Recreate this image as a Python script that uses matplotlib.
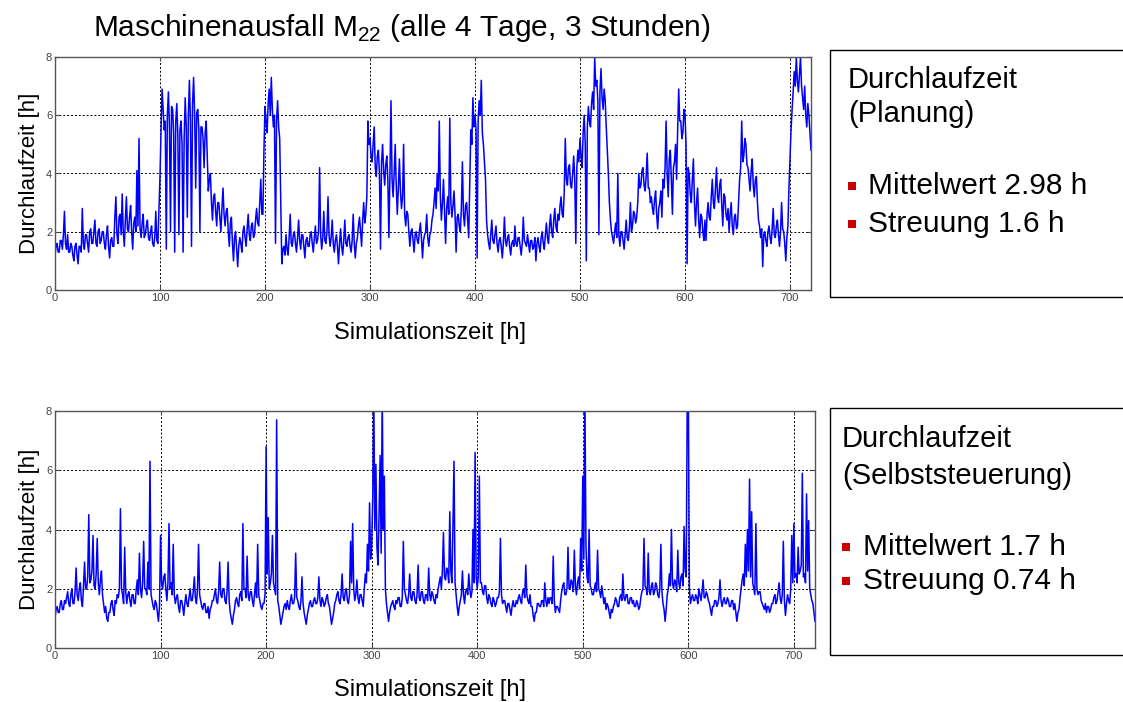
import numpy as np
import matplotlib
matplotlib.use("Agg")
import matplotlib.pyplot as plt
from matplotlib.patches import Rectangle

plt.rcParams['font.family'] = ['Liberation Sans', 'DejaVu Sans']
plt.rcParams['mathtext.fontset'] = 'custom'
plt.rcParams['mathtext.rm'] = 'Liberation Sans'

W, H = 1123, 702

# simulation time [h], one reading per hour
hours = np.arange(0, 721)

# Durchlaufzeit with central planning [h]
planung = [
    1.2, 1.5, 1.6, 1.3, 1.3, 1.7, 1.7, 1.4, 1.9, 2.7, 1.6, 1.4, 1.9, 1.3, 1.3, 1.6, 1.5, 1.2, 1.0, 1.5,
    1.6, 1.2, 0.9, 1.5, 1.5, 1.3, 2.8, 1.6, 1.4, 1.9, 1.9, 1.6, 1.3, 2.0, 2.1, 1.6, 1.6, 2.0, 2.4, 1.6,
    1.5, 2.0, 2.1, 1.6, 1.7, 2.0, 2.0, 1.6, 1.4, 1.9, 2.2, 1.5, 1.1, 1.7, 1.8, 1.5, 1.5, 2.5, 3.2, 1.9,
    1.6, 2.5, 2.6, 1.9, 3.3, 2.0, 1.5, 2.4, 3.2, 2.1, 2.0, 2.5, 2.9, 2.0, 1.4, 2.3, 2.5, 2.0, 4.1, 2.2,
    5.2, 2.1, 1.8, 2.3, 2.6, 1.8, 1.9, 2.2, 2.4, 1.8, 1.7, 2.0, 2.2, 1.6, 1.5, 1.8, 2.7, 1.7, 1.6, 2.8,
    3.9, 5.5, 6.9, 6.2, 5.5, 5.8, 1.4, 6.0, 6.8, 5.6, 2.0, 6.3, 6.2, 5.4, 1.3, 5.8, 6.4, 5.3, 1.9, 5.5,
    5.8, 5.0, 1.3, 5.2, 6.6, 5.6, 2.5, 6.0, 7.2, 5.8, 1.5, 6.4, 7.3, 6.0, 3.5, 6.1, 6.2, 5.5, 2.0, 5.6,
    5.6, 5.2, 4.2, 5.4, 5.8, 4.6, 3.4, 3.8, 4.0, 3.0, 2.4, 3.2, 3.3, 2.7, 2.2, 3.0, 3.0, 2.5, 2.0, 2.8,
    3.5, 2.6, 2.2, 2.7, 2.8, 2.0, 1.5, 2.3, 2.5, 1.6, 1.0, 1.8, 2.0, 1.4, 0.8, 1.5, 1.8, 1.6, 1.3, 2.0,
    2.2, 1.8, 1.5, 2.1, 2.6, 1.9, 1.7, 2.2, 2.3, 1.8, 1.9, 2.4, 2.8, 2.3, 2.2, 3.0, 3.8, 2.6, 2.6, 4.8,
    6.3, 5.8, 5.4, 6.4, 6.9, 6.0, 7.3, 6.2, 5.6, 6.0, 1.6, 5.8, 6.5, 5.6, 5.2, 3.0, 0.9, 1.4, 1.5, 1.2,
    1.9, 1.4, 1.2, 1.8, 2.6, 1.6, 1.5, 1.9, 2.0, 1.6, 1.3, 1.8, 2.4, 1.7, 1.4, 1.9, 1.9, 1.5, 1.1, 1.7,
    1.8, 1.5, 1.5, 1.9, 2.0, 1.6, 1.3, 1.8, 2.2, 1.6, 1.7, 2.0, 4.2, 1.9, 1.4, 1.8, 2.7, 1.7, 1.6, 2.0,
    3.2, 1.9, 1.5, 1.8, 2.4, 1.6, 1.3, 1.7, 1.9, 1.5, 0.9, 1.6, 2.1, 1.5, 1.2, 1.7, 2.4, 1.6, 1.5, 1.8,
    1.9, 1.5, 1.3, 1.7, 2.6, 1.6, 1.1, 1.6, 1.8, 2.2, 2.5, 2.0, 1.5, 2.4, 3.0, 2.3, 2.6, 3.2, 5.8, 5.0,
    5.2, 4.6, 4.4, 5.0, 5.6, 4.2, 3.9, 4.6, 4.8, 4.0, 1.4, 4.4, 5.0, 4.1, 3.6, 4.3, 4.6, 3.8, 1.8, 4.0,
    6.5, 3.8, 3.2, 4.0, 5.0, 3.6, 2.6, 3.5, 4.5, 3.4, 2.8, 3.2, 5.0, 2.6, 2.2, 2.7, 2.6, 2.0, 1.5, 2.0,
    2.1, 1.7, 1.3, 1.9, 2.0, 1.7, 1.6, 2.0, 2.3, 1.8, 1.1, 1.7, 1.9, 2.0, 2.6, 1.8, 1.5, 1.9, 2.0, 2.4,
    2.6, 3.0, 3.5, 2.8, 4.0, 3.4, 5.8, 3.2, 2.4, 3.0, 3.8, 2.7, 1.6, 2.8, 3.2, 2.6, 5.9, 3.0, 2.5, 2.9,
    3.4, 2.6, 1.3, 2.5, 2.6, 2.2, 2.0, 2.8, 4.4, 2.6, 2.2, 2.9, 3.0, 2.4, 1.8, 3.6, 5.5, 5.0, 6.6, 5.6,
    6.0, 5.5, 1.1, 5.8, 6.5, 6.0, 7.2, 5.4, 5.0, 4.4, 3.8, 2.4, 1.9, 1.6, 1.4, 1.9, 2.4, 1.7, 1.6, 1.9,
    2.2, 1.6, 1.3, 1.7, 1.8, 1.5, 1.1, 1.6, 2.5, 1.7, 1.5, 1.8, 1.9, 1.5, 1.2, 1.6, 1.7, 1.5, 2.2, 1.6,
    1.5, 1.8, 1.8, 1.5, 1.2, 1.6, 2.5, 1.7, 1.6, 1.5, 1.9, 1.6, 1.3, 1.7, 1.7, 1.4, 1.5, 1.8, 1.0, 1.6,
    1.8, 1.5, 1.3, 1.8, 2.0, 1.6, 1.4, 1.9, 2.3, 1.8, 1.6, 2.2, 2.6, 2.0, 1.8, 2.4, 2.8, 2.2, 2.0, 2.6,
    2.4, 2.9, 3.2, 2.6, 2.5, 3.4, 5.2, 3.8, 3.6, 4.2, 4.3, 3.6, 3.5, 4.0, 4.6, 3.8, 1.6, 4.2, 4.8, 4.4,
    5.2, 4.6, 4.2, 5.4, 6.0, 5.0, 1.0, 5.6, 6.3, 5.8, 5.6, 6.4, 6.8, 6.2, 8.0, 7.0, 7.2, 6.5, 1.9, 6.8,
    7.6, 6.6, 6.2, 6.9, 6.5, 5.6, 4.8, 4.0, 3.0, 2.4, 2.0, 1.8, 1.6, 2.0, 2.3, 1.8, 4.0, 1.9, 1.5, 2.0,
    2.0, 1.7, 1.4, 1.9, 2.4, 1.8, 1.7, 2.1, 3.0, 2.0, 2.2, 2.7, 2.6, 2.3, 2.5, 3.0, 4.0, 3.5, 3.6, 4.1,
    4.2, 3.6, 3.4, 3.9, 4.7, 3.5, 3.5, 3.0, 3.2, 2.8, 2.6, 3.1, 3.4, 2.6, 2.1, 2.8, 3.0, 3.4, 2.5, 3.8,
    3.5, 4.2, 5.8, 4.0, 3.2, 4.5, 4.8, 3.8, 2.6, 4.2, 4.4, 5.0, 3.8, 5.5, 6.9, 5.8, 5.8, 5.2, 5.4, 6.2,
    6.0, 5.0, 0.9, 4.2, 4.0, 3.3, 3.0, 3.8, 4.5, 3.0, 2.2, 3.0, 3.5, 2.4, 1.8, 2.6, 2.5, 2.0, 1.7, 2.4,
    1.7, 2.6, 3.0, 2.5, 2.4, 3.2, 3.8, 3.0, 2.8, 3.5, 4.2, 3.2, 3.0, 3.6, 3.8, 2.9, 2.2, 3.3, 3.2, 2.6,
    2.4, 2.8, 2.0, 2.6, 3.0, 2.2, 1.9, 2.5, 2.6, 2.1, 2.2, 3.0, 3.8, 4.2, 5.8, 4.4, 4.6, 5.2, 5.0, 4.3,
    4.2, 3.8, 3.4, 4.1, 4.5, 3.6, 3.2, 3.8, 3.9, 3.0, 2.4, 2.2, 1.8, 2.1, 0.8, 1.9, 2.0, 1.7, 1.5, 2.0,
    2.2, 1.8, 1.6, 2.1, 2.8, 1.9, 1.8, 2.2, 2.4, 1.9, 1.5, 2.0, 3.0, 2.1, 2.0, 1.6, 1.0, 1.8, 2.2, 3.5,
    4.5, 5.5, 6.2, 6.8, 7.5, 7.0, 8.0, 7.2, 6.8, 7.4, 8.0, 7.0, 6.6, 6.2, 7.0, 6.0, 5.6, 6.4, 6.0, 5.4,
    4.8,
]

# Durchlaufzeit with self-control [h]
selbst = [
    1.0, 1.3, 1.4, 1.2, 1.2, 1.5, 1.6, 1.3, 1.3, 1.6, 1.5, 1.7, 1.9, 1.5, 1.4, 1.8, 2.0, 1.5, 1.5, 1.9,
    2.7, 1.8, 1.6, 2.0, 2.2, 1.6, 1.4, 2.1, 2.9, 2.0, 2.0, 2.4, 4.5, 2.2, 2.3, 2.6, 3.8, 2.1, 2.0, 2.5,
    3.7, 2.2, 1.8, 2.3, 2.6, 1.8, 1.5, 1.2, 1.4, 1.0, 0.9, 1.2, 1.2, 1.5, 1.6, 1.3, 1.1, 1.6, 1.5, 1.8,
    1.7, 2.0, 4.7, 2.0, 1.8, 1.5, 3.4, 1.9, 1.5, 1.8, 1.9, 1.6, 1.4, 1.8, 1.8, 1.5, 1.5, 2.0, 2.3, 1.8,
    3.2, 2.0, 1.7, 2.2, 3.6, 2.0, 2.0, 1.8, 2.9, 2.0, 6.3, 1.8, 1.6, 1.4, 1.3, 1.6, 1.5, 1.2, 0.9, 1.4,
    3.8, 2.2, 2.0, 2.4, 2.5, 2.0, 1.6, 2.2, 4.2, 2.0, 2.2, 1.8, 3.5, 1.8, 1.5, 1.7, 1.8, 1.4, 1.2, 1.6,
    1.6, 1.4, 1.1, 1.5, 1.8, 1.5, 1.4, 1.7, 2.0, 1.6, 1.6, 1.9, 2.4, 1.7, 1.5, 2.0, 3.5, 1.8, 1.6, 1.4,
    1.3, 1.5, 1.5, 1.2, 1.2, 1.4, 1.0, 1.3, 1.4, 1.6, 1.6, 1.8, 2.0, 1.6, 1.5, 1.9, 2.9, 1.8, 1.7, 2.0,
    2.0, 1.6, 1.5, 1.9, 2.9, 1.6, 1.2, 1.0, 0.8, 1.1, 1.3, 1.6, 1.7, 1.5, 1.4, 1.8, 1.9, 1.6, 4.2, 2.0,
    2.0, 1.7, 3.1, 1.8, 1.6, 1.9, 1.9, 1.6, 1.4, 1.8, 2.2, 1.7, 3.5, 1.8, 1.6, 1.4, 1.3, 1.5, 1.5, 1.8,
    6.8, 2.5, 4.4, 2.0, 2.2, 2.5, 3.8, 2.2, 2.0, 1.8, 7.7, 1.6, 1.4, 1.1, 0.8, 1.0, 1.2, 1.4, 1.5, 1.3,
    1.6, 1.4, 1.3, 1.6, 1.8, 1.5, 1.5, 1.7, 3.2, 1.7, 1.6, 1.4, 1.3, 1.6, 2.4, 1.5, 1.2, 1.0, 0.8, 1.1,
    1.3, 1.5, 1.6, 1.4, 1.4, 1.6, 1.7, 1.5, 1.5, 1.7, 2.4, 1.6, 1.4, 1.7, 1.6, 1.4, 1.5, 1.7, 1.8, 1.5,
    1.4, 1.1, 0.8, 1.0, 1.2, 1.5, 1.6, 1.8, 1.9, 1.6, 1.5, 1.8, 2.5, 1.7, 1.6, 1.9, 2.0, 1.6, 1.5, 1.8,
    3.6, 2.2, 4.2, 2.0, 1.6, 1.8, 2.3, 1.7, 1.5, 1.8, 1.8, 1.6, 1.4, 2.0, 2.5, 2.2, 3.5, 2.6, 4.9, 3.0,
    3.5, 5.0, 8.6, 4.0, 6.2, 3.4, 2.8, 4.5, 6.5, 3.2, 8.6, 4.0, 5.8, 2.0, 1.5, 1.2, 0.9, 1.2, 1.4, 1.5,
    1.6, 1.4, 1.3, 1.6, 1.5, 1.7, 1.7, 1.4, 1.4, 1.7, 3.6, 2.0, 1.8, 1.6, 1.5, 1.8, 2.5, 1.7, 1.6, 1.9,
    1.9, 1.6, 1.5, 1.8, 2.8, 1.7, 1.6, 1.9, 1.9, 1.6, 1.5, 1.8, 1.8, 1.6, 2.7, 1.8, 1.6, 1.9, 1.8, 1.6,
    1.5, 1.8, 1.7, 2.0, 2.2, 2.4, 2.0, 2.6, 3.9, 2.4, 2.3, 2.7, 2.6, 2.2, 4.6, 2.6, 2.2, 4.1, 6.3, 2.2,
    1.8, 1.4, 1.1, 1.4, 1.6, 1.8, 2.6, 1.8, 1.5, 1.9, 2.0, 1.8, 2.5, 2.0, 1.7, 1.9, 4.0, 2.2, 6.6, 2.4,
    2.0, 2.4, 5.8, 2.2, 2.2, 1.9, 1.8, 2.1, 2.1, 1.7, 1.5, 1.8, 1.7, 1.5, 1.4, 1.7, 1.6, 1.4, 1.5, 1.7,
    1.7, 1.9, 3.7, 1.8, 1.5, 1.6, 1.6, 1.4, 1.2, 1.5, 1.5, 1.3, 1.1, 1.4, 1.6, 1.4, 1.4, 1.6, 1.5, 1.7,
    1.8, 1.6, 1.5, 1.9, 2.0, 1.7, 2.8, 1.8, 1.6, 1.5, 1.8, 1.4, 1.4, 1.1, 0.9, 1.2, 1.2, 1.5, 1.5, 1.4,
    1.4, 1.6, 1.6, 1.4, 2.2, 1.6, 1.4, 1.7, 1.5, 1.7, 1.7, 1.5, 3.1, 1.6, 1.2, 1.4, 1.4, 1.3, 1.2, 1.6,
    1.9, 2.1, 2.2, 1.8, 1.8, 2.0, 3.4, 2.0, 2.0, 2.3, 2.2, 1.9, 3.3, 2.1, 1.8, 2.2, 2.4, 2.0, 3.7, 2.6,
    5.8, 3.0, 8.6, 3.5, 2.4, 2.2, 4.0, 2.1, 2.0, 1.8, 1.8, 2.0, 2.2, 1.9, 3.3, 2.0, 1.9, 1.7, 2.1, 1.8,
    1.5, 1.7, 1.3, 1.5, 1.4, 1.2, 1.0, 1.3, 1.2, 1.4, 1.5, 1.7, 1.6, 1.4, 1.4, 1.7, 1.8, 1.6, 2.5, 1.7,
    1.6, 1.8, 1.8, 1.5, 1.5, 1.7, 1.7, 1.5, 1.6, 1.4, 1.4, 1.6, 1.5, 1.3, 1.4, 1.7, 1.9, 2.0, 3.7, 2.1,
    2.0, 1.8, 3.2, 1.9, 1.8, 2.1, 2.2, 1.8, 1.9, 2.2, 2.1, 1.8, 1.7, 2.0, 3.5, 1.9, 1.5, 1.3, 0.9, 1.3,
    1.8, 2.0, 2.5, 2.1, 4.0, 2.2, 2.0, 2.3, 2.2, 1.9, 3.3, 2.2, 2.0, 2.4, 2.5, 2.1, 4.1, 2.6, 2.4, 8.6,
    8.6, 2.0, 1.5, 1.7, 1.8, 1.6, 1.6, 1.8, 1.7, 1.5, 2.0, 1.8, 1.6, 1.9, 2.3, 1.7, 1.7, 1.9, 1.8, 1.6,
    1.5, 1.3, 1.1, 1.4, 1.4, 1.6, 1.6, 1.4, 1.5, 1.7, 2.3, 1.6, 1.4, 1.6, 1.7, 1.5, 1.5, 1.7, 1.6, 1.4,
    1.4, 1.6, 1.6, 1.3, 1.5, 1.2, 0.9, 1.2, 1.3, 1.7, 2.0, 2.3, 2.5, 2.1, 3.5, 2.4, 4.0, 2.6, 5.7, 2.4,
    4.6, 2.2, 2.0, 1.8, 4.2, 2.0, 1.8, 1.9, 1.9, 1.6, 1.5, 1.4, 1.3, 1.5, 1.2, 1.4, 1.4, 1.2, 1.3, 1.5,
    1.5, 1.7, 1.8, 1.5, 1.6, 1.9, 2.2, 1.7, 1.5, 1.8, 3.6, 1.6, 1.1, 1.5, 1.8, 1.6, 1.5, 2.0, 3.8, 2.2,
    4.2, 2.4, 2.5, 2.2, 3.4, 2.5, 2.6, 2.8, 5.9, 2.4, 2.5, 2.2, 5.2, 2.6, 4.3, 2.0, 1.8, 1.6, 1.5, 1.2,
    0.9,
]

x_ticks = [0, 100, 200, 300, 400, 500, 600, 700]
y_ticks = [0, 2, 4, 6, 8]

title = "Maschinenausfall M$_{\\mathrm{22}}$ (alle 4 Tage, 3 Stunden)"
box_texts = [
    ("Durchlaufzeit", "(Planung)", "Mittelwert 2.98 h", "Streuung 1.6 h"),
    ("Durchlaufzeit", "(Selbststeuerung)", "Mittelwert 1.7 h", "Streuung 0.74 h"),
]


def fx(px):
    return px / W


def fy(py):
    return 1 - py / H


def style_axes(ax):
    ax.set_xlim(0, 720)
    ax.set_ylim(0, 8)
    ax.set_xticks(x_ticks)
    ax.set_yticks(y_ticks)
    ax.grid(True, color='black', linestyle=(0, (2, 2)), linewidth=0.7)
    ax.tick_params(direction='in', length=3, labelsize=8, colors='#444444',
                   top=True, right=True, pad=2)
    for s in ax.spines.values():
        s.set_color('#555555')
        s.set_linewidth(1.0)
    ax.set_ylabel("Durchlaufzeit [h]", fontsize=16, labelpad=4)


fig = plt.figure(figsize=(W / 100, H / 100), dpi=100)

ax1 = fig.add_axes([fx(55), fy(290), fx(811 - 55), (290 - 57) / H])
ax1.plot(hours, planung, color='#0000ff', linewidth=1.1)
style_axes(ax1)

ax2 = fig.add_axes([fx(55), fy(648), fx(815 - 55), (648 - 411) / H])
ax2.plot(hours, selbst, color='#0000ff', linewidth=1.1)
style_axes(ax2)

fig.text(fx(93), fy(28), title, fontsize=21.5, va='center', ha='left')
fig.text(fx(430), fy(333), "Simulationszeit [h]", fontsize=17, ha='center', va='center')
fig.text(fx(430), fy(690), "Simulationszeit [h]", fontsize=17, ha='center', va='center')

# side boxes with the statistics
boxes = [(50, 297, [80, 114, 186, 224], 848, 868, 852),
         (408, 655, [439, 476, 547, 581], 842, 863, 846)]
for (top, bot, ys, xt, xb_text, xb), texts in zip(boxes, box_texts):
    fig.add_artist(Rectangle((fx(830), fy(bot)), fx(1140 - 830), (bot - top) / H,
                             transform=fig.transFigure, fill=False,
                             edgecolor='black', linewidth=1.0))
    fig.text(fx(xt), fy(ys[0]), texts[0], fontsize=21, va='center')
    fig.text(fx(xt), fy(ys[1]), texts[1], fontsize=21, va='center')
    for yy, t in zip(ys[2:], texts[2:]):
        fig.add_artist(Rectangle((fx(xb - 4), fy(yy + 4)), fx(8), 8 / H,
                                 transform=fig.transFigure, facecolor='#cc0000',
                                 edgecolor='none'))
        fig.text(fx(xb_text), fy(yy), t, fontsize=21.5, va='center')

fig.savefig("out.png", dpi=100)
